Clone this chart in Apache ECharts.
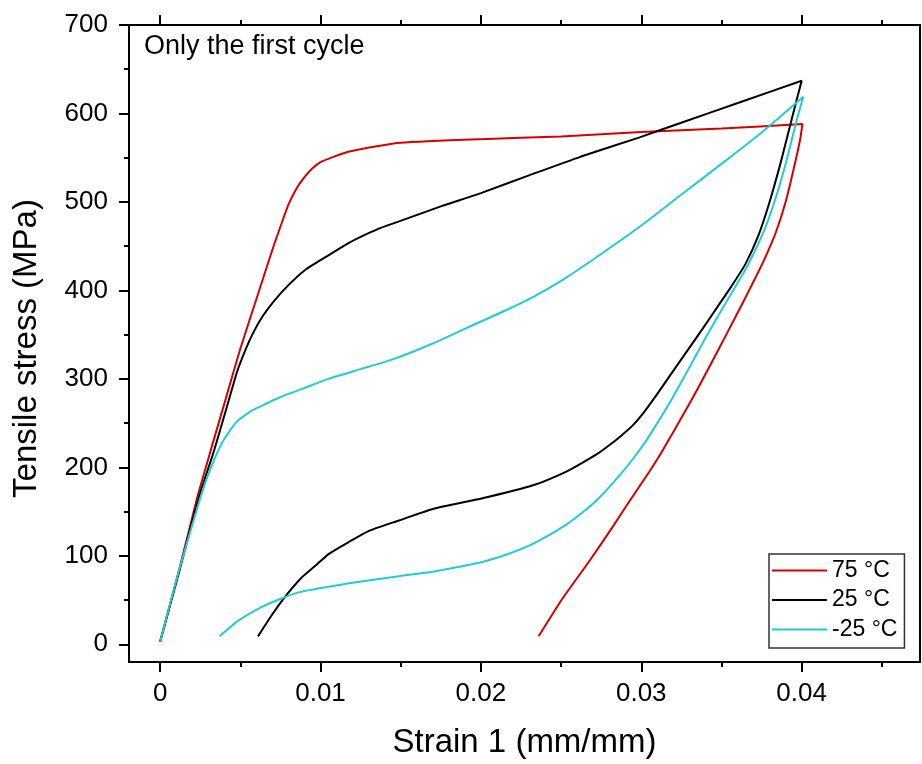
<!DOCTYPE html>
<html>
<head>
<meta charset="utf-8">
<script src="https://cdn.jsdelivr.net/npm/echarts@6/dist/echarts.min.js"></script>
<style>html,body{margin:0;padding:0;background:#fff}#c{width:922px;height:764px}</style>
</head>
<body>
<div id="c"></div>
<script>
// ---- data ----
const seriesNames = ['75 \u00B0C', '25 \u00B0C', '-25 \u00B0C'];
const strain75 = [0, 0.0012, 0.0023, 0.0032, 0.0041, 0.0050, 0.0060, 0.0070, 0.0075, 0.0080, 0.0085, 0.0090, 0.0095, 0.0100, 0.0108, 0.0118, 0.0135, 0.0150, 0.0200, 0.0250, 0.0300, 0.0350, 0.04005,
  0.0399, 0.0395, 0.0390, 0.0384, 0.0377, 0.0370, 0.0363, 0.0353, 0.0342, 0.0331, 0.0319, 0.0312, 0.0305, 0.0292, 0.0283, 0.0268, 0.0251, 0.0236];
const stress75 = [3, 85, 165, 222, 278, 334, 390, 446, 472, 497, 515, 528, 538, 545, 551, 557, 563, 567, 571, 574, 579, 583, 588,
  570, 537, 500, 466, 436, 410, 385, 350, 312, 275, 237, 215, 195, 160, 135, 95, 52, 9];
const strain25 = [0, 0.0012, 0.0024, 0.0034, 0.0043, 0.0048, 0.0053, 0.0058, 0.0064, 0.0071, 0.0080, 0.0091, 0.0108, 0.0118, 0.0128, 0.0138, 0.0149, 0.0175, 0.0200, 0.0230, 0.0262, 0.0299, 0.0324, 0.0362, 0.0400,
  0.0394, 0.0387, 0.0380, 0.0373, 0.0365, 0.0356, 0.0347, 0.0338, 0.0328, 0.0318, 0.0310, 0.0302, 0.0295, 0.0287, 0.0280, 0.0274, 0.0264, 0.0253, 0.0233, 0.0201, 0.0170, 0.0149, 0.0130, 0.0118, 0.0105, 0.0097, 0.0088, 0.0078, 0.0070, 0.0061];
const stress25 = [3, 83, 165, 221, 277, 308, 332, 352, 371, 388, 406, 424, 443, 454, 463, 471, 478, 495, 510, 530, 551, 573, 589, 613, 637,
  595, 545, 500, 462, 430, 404, 380, 356, 330, 304, 283, 263, 248, 235, 225, 217, 206, 195, 180, 165, 153, 140, 128, 116, 102, 89, 75, 54, 34, 9];
const strainM25 = [0, 0.0012, 0.0025, 0.0030, 0.0034, 0.0037, 0.0040, 0.0044, 0.0048, 0.0053, 0.0058, 0.0065, 0.0072, 0.0080, 0.0089, 0.0105, 0.0125, 0.0145, 0.0170, 0.0199, 0.0215, 0.0233, 0.0251, 0.0270, 0.0299, 0.0324, 0.0350, 0.0376, 0.0401,
  0.0397, 0.0390, 0.0383, 0.0376, 0.0366, 0.0355, 0.0345, 0.0336, 0.0327, 0.0318, 0.0310, 0.0303, 0.0295, 0.0287, 0.0274, 0.0264, 0.0253, 0.0233, 0.0217, 0.0201, 0.0185, 0.0170, 0.0149, 0.0118, 0.0087, 0.0076, 0.0062, 0.0049, 0.0037];
const stressM25 = [3, 85, 165, 192, 210, 222, 232, 243, 252, 259, 265, 271, 277, 283, 289, 300, 311, 322, 340, 364, 377, 393, 412, 435, 472, 507, 543, 580, 619,
  593, 543, 500, 465, 427, 393, 362, 333, 303, 274, 250, 230, 210, 192, 166, 150, 135, 114, 102, 93, 87, 82, 77, 69, 59, 52, 41, 27, 9];
const xMajorTicks = [0, 0.01, 0.02, 0.03, 0.04];
const xMinorTicks = [0.005, 0.015, 0.025, 0.035, 0.045];
const yMajorTicks = [0, 100, 200, 300, 400, 500, 600, 700];
const yMinorTicks = [50, 150, 250, 350, 450, 550, 650];
const xLabels = ['0', '0.01', '0.02', '0.03', '0.04'];

const FONT = 'Liberation Sans, Arial, sans-serif';
const colors = ['#d40000', '#000000', '#22ccd6'];
const pairs = (xs, ys) => xs.map((x, i) => [x, ys[i]]);
const X_MIN = -0.00194, X_MAX = 0.04738, Y_MIN = -20, Y_MAX = 700;

function xAx(pos, ticks, len, main) {
  return {
    type: 'value', position: pos, min: X_MIN, max: X_MAX,
    axisLine: { show: main, onZero: false, lineStyle: { color: '#000', width: 2 } },
    axisTick: { show: true, inside: false, length: len, customValues: ticks, lineStyle: { color: '#000', width: 2 } },
    axisLabel: main && pos === 'bottom' ? {
      show: true, customValues: xMajorTicks, margin: 19, fontSize: 26, fontFamily: FONT, color: '#000',
      formatter: v => { const i = xMajorTicks.findIndex(t => Math.abs(t - v) < 1e-9); return i >= 0 ? xLabels[i] : ''; }
    } : { show: false },
    splitLine: { show: false },
    name: main && pos === 'bottom' ? 'Strain 1 (mm/mm)' : '',
    nameLocation: 'middle', nameGap: 64,
    nameTextStyle: { fontSize: 33, fontFamily: FONT, color: '#000' }
  };
}
function yAx(pos, ticks, len, main) {
  return {
    type: 'value', position: pos, min: Y_MIN, max: Y_MAX,
    axisLine: { show: main, onZero: false, lineStyle: { color: '#000', width: 2 } },
    axisTick: { show: ticks.length > 0, inside: false, length: len, customValues: ticks, lineStyle: { color: '#000', width: 2 } },
    axisLabel: main && pos === 'left' ? {
      show: true, customValues: yMajorTicks, margin: 21, fontSize: 26, fontFamily: FONT, color: '#000'
    } : { show: false },
    splitLine: { show: false },
    name: main && pos === 'left' ? 'Tensile stress (MPa)' : '',
    nameLocation: 'middle', nameGap: 86,
    nameTextStyle: { fontSize: 33, fontFamily: FONT, color: '#000', padding: [0, 10, 0, 0] }
  };
}

const chart = echarts.init(document.getElementById('c'), null, { renderer: 'canvas' });
chart.setOption({
  backgroundColor: '#fff',
  animation: false,
  grid: { left: 129, right: 2, top: 25, bottom: 100, containLabel: false },
  xAxis: [
    xAx('bottom', xMajorTicks, 10, true),
    xAx('bottom', xMinorTicks, 5, false),
    xAx('top', xMajorTicks, 10, true),
    xAx('top', xMinorTicks, 5, false)
  ],
  yAxis: [
    yAx('left', yMajorTicks, 10, true),
    yAx('left', yMinorTicks, 5, false),
    yAx('right', [], 0, true)
  ],
  legend: {
    orient: 'vertical', left: 769, top: 554,
    data: seriesNames,
    icon: 'rect',
    borderColor: '#333', borderWidth: 1.5, borderRadius: 0,
    padding: [5, 7, 7, 3],
    itemWidth: 55, itemHeight: 2, itemGap: 6.5,
    textStyle: { fontSize: 23, fontFamily: FONT, color: '#000' }
  },
  graphic: [{
    type: 'text', left: 144, top: 33,
    style: { text: 'Only the first cycle', fontSize: 27, fontFamily: FONT, fill: '#000' }
  }],
  series: [
    [strain75, stress75], [strain25, stress25], [strainM25, stressM25]
  ].map((d, i) => ({
    name: seriesNames[i], type: 'line', xAxisIndex: 0, yAxisIndex: 0,
    data: pairs(d[0], d[1]), showSymbol: false, symbol: 'none', smooth: 0.2,
    lineStyle: { color: colors[i], width: 2 }, itemStyle: { color: colors[i] }
  }))
});
</script>
</body>
</html>
